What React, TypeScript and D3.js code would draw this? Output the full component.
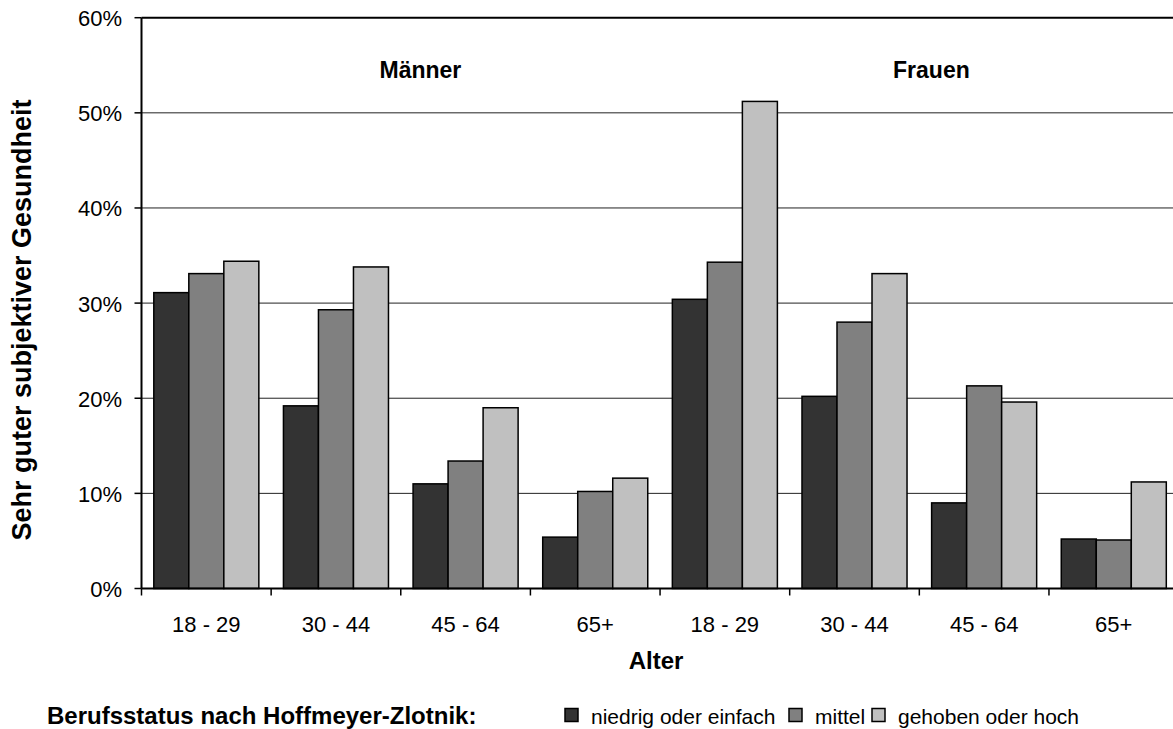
import { useMemo } from "react";
import * as d3 from "d3";

const ageGroups = ["18 - 29", "30 - 44", "45 - 64", "65+", "18 - 29", "30 - 44", "45 - 64", "65+"];
const sexLabels = ["Männer", "Frauen"];
const seriesNames = ["niedrig oder einfach", "mittel", "gehoben oder hoch"];
const seriesColors = ["#333333", "#808080", "#c0c0c0"];
const niedrig = [31.1, 19.2, 11.0, 5.4, 30.4, 20.2, 9.0, 5.2];
const mittel = [33.1, 29.3, 13.4, 10.2, 34.3, 28.0, 21.3, 5.1];
const gehoben = [34.4, 33.8, 19.0, 11.6, 51.2, 33.1, 19.6, 11.2];
const yTicks = [0, 10, 20, 30, 40, 50, 60];

const W = 1173;
const H = 729;
const M = { left: 141.5, right: 1178.6, top: 17.7, bottom: 588.5 };
const FONT = "'Liberation Sans', Arial, Helvetica, sans-serif";

export default function App() {
  const values = [niedrig, mittel, gehoben];
  const idx = ageGroups.map((_, i) => i);

  const x = useMemo(
    () => d3.scaleBand<number>().domain(idx).range([M.left, M.right]).padding(0),
    [],
  );
  const sub = useMemo(() => {
    const bw = x.bandwidth();
    const gap = 12.3;
    return d3.scaleBand<number>().domain([0, 1, 2]).range([gap, bw - gap]).padding(0);
  }, [x]);
  const y = useMemo(
    () => d3.scaleLinear().domain([0, 60]).range([M.bottom, M.top]),
    [],
  );

  // group labels start a little right of each group's second band end
  const labelStart = (g: number) => x(g * 4)! + [238, 233][g];

  // legend layout: square, gap, text, gap, next square ...
  const legendFont = 21;
  const approxWidths = [188, 47, 184];
  const legendItems: { sx: number; tx: number }[] = [];
  let cursor = 565;
  seriesNames.forEach((_, s) => {
    legendItems.push({ sx: cursor, tx: cursor + 26 });
    cursor = cursor + 26 + approxWidths[s] + 10;
  });

  return (
    <svg
      width={W}
      height={H}
      style={{ position: "absolute", left: 0, top: 0, background: "#fff" }}
      fontFamily={FONT}
    >
      {/* gridlines */}
      {yTicks.slice(1).map((t) => (
        <line
          key={`g${t}`}
          x1={M.left}
          x2={M.right}
          y1={y(t)}
          y2={y(t)}
          stroke={t === 60 ? "#000" : "#222"}
          strokeWidth={t === 60 ? 2 : 1}
        />
      ))}

      {/* bars */}
      {idx.map((i) =>
        values.map((vals, s) => {
          const bx = x(i)! + sub(s)!;
          const by = y(vals[i]);
          return (
            <rect
              key={`b${i}-${s}`}
              x={bx}
              y={by}
              width={sub.bandwidth()}
              height={y(0) - by}
              fill={seriesColors[s]}
              stroke="#000"
              strokeWidth={1.5}
            />
          );
        }),
      )}

      {/* y axis */}
      <line x1={M.left} x2={M.left} y1={M.top} y2={M.bottom} stroke="#000" strokeWidth={2} />
      {yTicks.map((t) => (
        <g key={`yt${t}`}>
          <line x1={M.left - 7} x2={M.left} y1={y(t)} y2={y(t)} stroke="#000" strokeWidth={1.5} />
          <text x={122} y={y(t) + 8.5} textAnchor="end" fontSize={22} fill="#000">
            {`${t}%`}
          </text>
        </g>
      ))}

      {/* x axis */}
      <line x1={M.left} x2={M.right} y1={M.bottom} y2={M.bottom} stroke="#000" strokeWidth={2} />
      {idx.map((i) => (
        <line
          key={`xt${i}`}
          x1={x(i)!}
          x2={x(i)!}
          y1={M.bottom}
          y2={M.bottom + 7}
          stroke="#000"
          strokeWidth={1.5}
        />
      ))}
      {idx.map((i) => (
        <text
          key={`xl${i}`}
          x={x(i)! + x.bandwidth() / 2}
          y={631.5}
          textAnchor="middle"
          fontSize={22}
          fill="#000"
        >
          {ageGroups[i]}
        </text>
      ))}

      {/* group labels */}
      {sexLabels.map((s, g) => (
        <text
          key={s}
          x={labelStart(g)}
          y={78}
          fontSize={23}
          fontWeight="bold"
          fill="#000"
        >
          {s}
        </text>
      ))}

      {/* axis titles */}
      <text x={656} y={669} textAnchor="middle" fontSize={24} fontWeight="bold" fill="#000">
        Alter
      </text>
      <text
        transform={`translate(31, ${320}) rotate(-90)`}
        textAnchor="middle"
        fontSize={27}
        fontWeight="bold"
        fill="#000"
      >
        Sehr guter subjektiver Gesundheit
      </text>

      {/* legend */}
      <text x={47} y={724} fontSize={24} fontWeight="bold" fill="#000">
        Berufsstatus nach Hoffmeyer-Zlotnik:
      </text>
      {seriesNames.map((n, s) => (
        <g key={n}>
          <rect
            x={legendItems[s].sx}
            y={708.5}
            width={13}
            height={13}
            fill={seriesColors[s]}
            stroke="#000"
            strokeWidth={1.5}
          />
          <text x={legendItems[s].tx} y={724} fontSize={legendFont} fill="#000">
            {n}
          </text>
        </g>
      ))}
    </svg>
  );
}
